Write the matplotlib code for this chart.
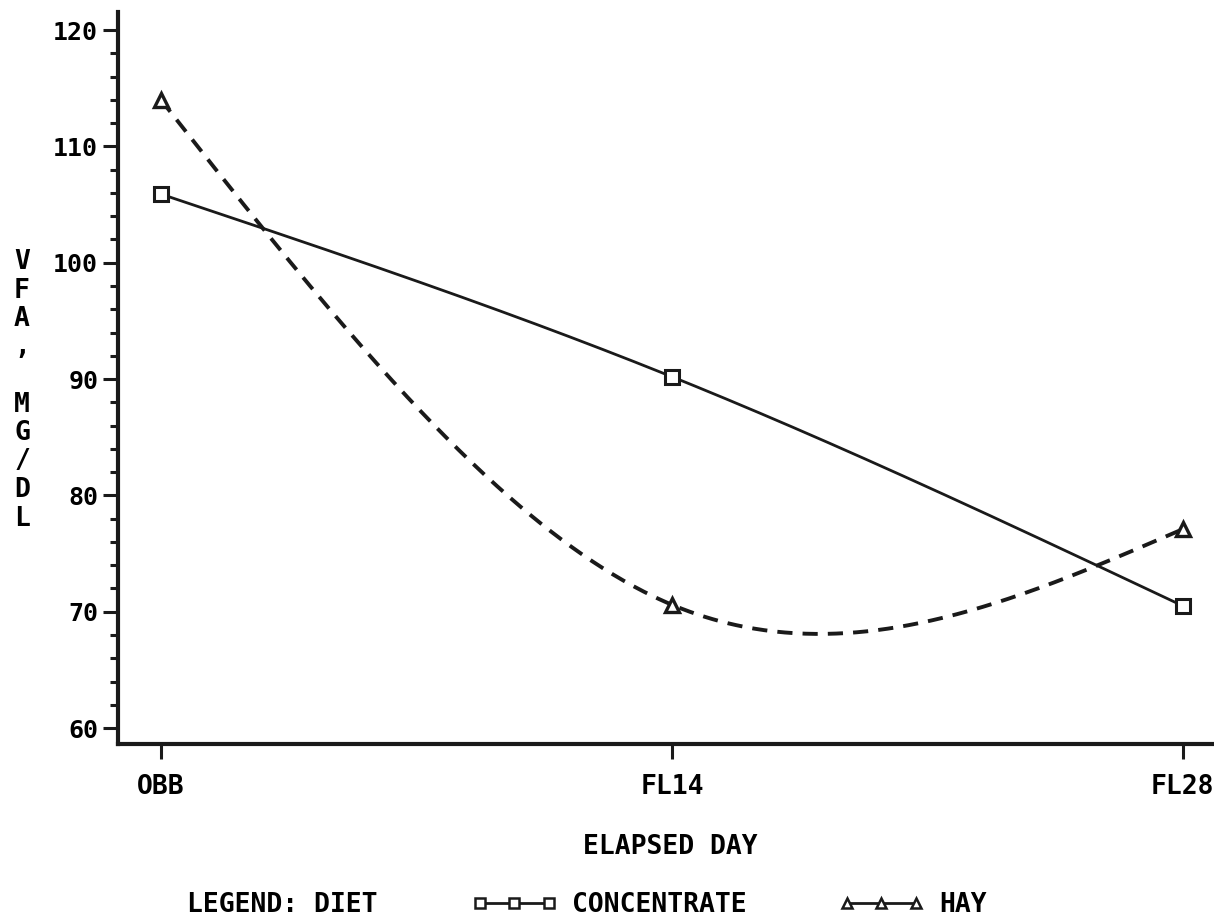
import numpy as np
import matplotlib
matplotlib.use("Agg")
import matplotlib.pyplot as plt
from matplotlib.lines import Line2D

# ---- data ----
categories = ["OBB", "FL14", "FL28"]
concentrate = [105.9, 90.2, 70.5]
hay = [114.0, 70.6, 77.1]
y_ticks = [60, 70, 80, 90, 100, 110, 120]
y_label = "VFA, MG/DL"
x_label = "ELAPSED DAY"
legend_title = "LEGEND: DIET"
series_names = ["CONCENTRATE", "HAY"]


def natural_spline(y, n=200):
    """Smooth natural cubic spline through equally spaced points (curve rendering)."""
    y = np.asarray(y, float)
    k = len(y)
    A = np.zeros((k, k))
    r = np.zeros(k)
    A[0, 0] = A[-1, -1] = 1
    for i in range(1, k - 1):
        A[i, i - 1], A[i, i], A[i, i + 1] = 1, 4, 1
        r[i] = 6 * (y[i - 1] - 2 * y[i] + y[i + 1])
    M = np.linalg.solve(A, r)
    xs, ys = [], []
    for i in range(k - 1):
        t = np.linspace(0, 1, n)
        s = (M[i] * (1 - t) ** 3 / 6 + M[i + 1] * t ** 3 / 6
             + (y[i] - M[i] / 6) * (1 - t) + (y[i + 1] - M[i + 1] / 6) * t)
        xs.append(i + t)
        ys.append(s)
    return np.concatenate(xs), np.concatenate(ys)


FONT = 'DejaVu Sans Mono'
plt.rcParams['font.family'] = [FONT, 'DejaVu Sans']
plt.rcParams['font.weight'] = 'bold'
FS = 19

fig = plt.figure(figsize=(12.14, 9.24), dpi=100)
ax = fig.add_axes([118 / 1214, 180 / 924, 1094 / 1214, 732 / 924])

x = np.arange(len(categories))
cx, cy = natural_spline(concentrate)
hx, hy = natural_spline(hay)

col = "#1a1a1a"
ax.plot(cx, cy, color=col, lw=2.0, solid_capstyle='round')
ax.plot(hx, hy, color=col, lw=2.8, linestyle=(0, (3.9, 2.6)))
ax.plot(x, concentrate, linestyle='none', marker='s', ms=9.5, mfc='white',
        mec=col, mew=2.2)
ax.plot(x, hay, linestyle='none', marker='^', ms=10, mfc='white',
        mec=col, mew=2.4)

ax.set_xlim(-0.084, 2.057)
ax.set_ylim(58.63, 121.55)

for s in ['top', 'right']:
    ax.spines[s].set_visible(False)
for s in ['left', 'bottom']:
    ax.spines[s].set_linewidth(3)
    ax.spines[s].set_color(col)

ax.set_xticks(x)
ax.set_xticklabels(categories)
ax.set_yticks(y_ticks)
ax.set_yticklabels([str(v) for v in y_ticks])
ax.set_yticks(np.arange(60, 121, 2), minor=True)
ax.tick_params(axis='y', which='major', length=10.8, width=2.2, pad=3.5,
               labelsize=18, color=col)
ax.tick_params(axis='y', which='minor', length=5.8, width=2.2, color=col)
ax.tick_params(axis='x', which='major', length=10.8, width=2.2, pad=11,
               labelsize=FS, color=col)

fig.text(670 / 1214, 1 - 847 / 924, x_label, ha='center', va='center',
         fontsize=FS, fontweight='bold')

# vertical stacked y label
top_y = 262
step = 28.5
for i, ch in enumerate(y_label):
    if ch == ' ':
        continue
    fig.text(22 / 1214, 1 - (top_y + i * step) / 924, ch, ha='center',
             va='center', fontsize=FS, fontweight='bold')

# legend
fig.text(187 / 1214, 1 - 905 / 924, legend_title, ha='left', va='center',
         fontsize=FS, fontweight='bold')
h1 = Line2D([], [], color=col, lw=2, marker='s', ms=7, mfc='white', mec=col,
            mew=1.8)
h2 = Line2D([], [], color=col, lw=2, marker='^', ms=7.5, mfc='white', mec=col,
            mew=1.8)
leg = fig.legend([h1, h2], series_names, loc='center left',
                 bbox_to_anchor=(472 / 1214, 1 - 905 / 924), ncol=2,
                 frameon=False, numpoints=3, handlelength=3.2,
                 handletextpad=0.6, columnspacing=3.5, borderpad=0,
                 borderaxespad=0,
                 prop={'size': FS, 'weight': 'bold', 'family': FONT})

fig.savefig("out.png", dpi=100, facecolor='white')
